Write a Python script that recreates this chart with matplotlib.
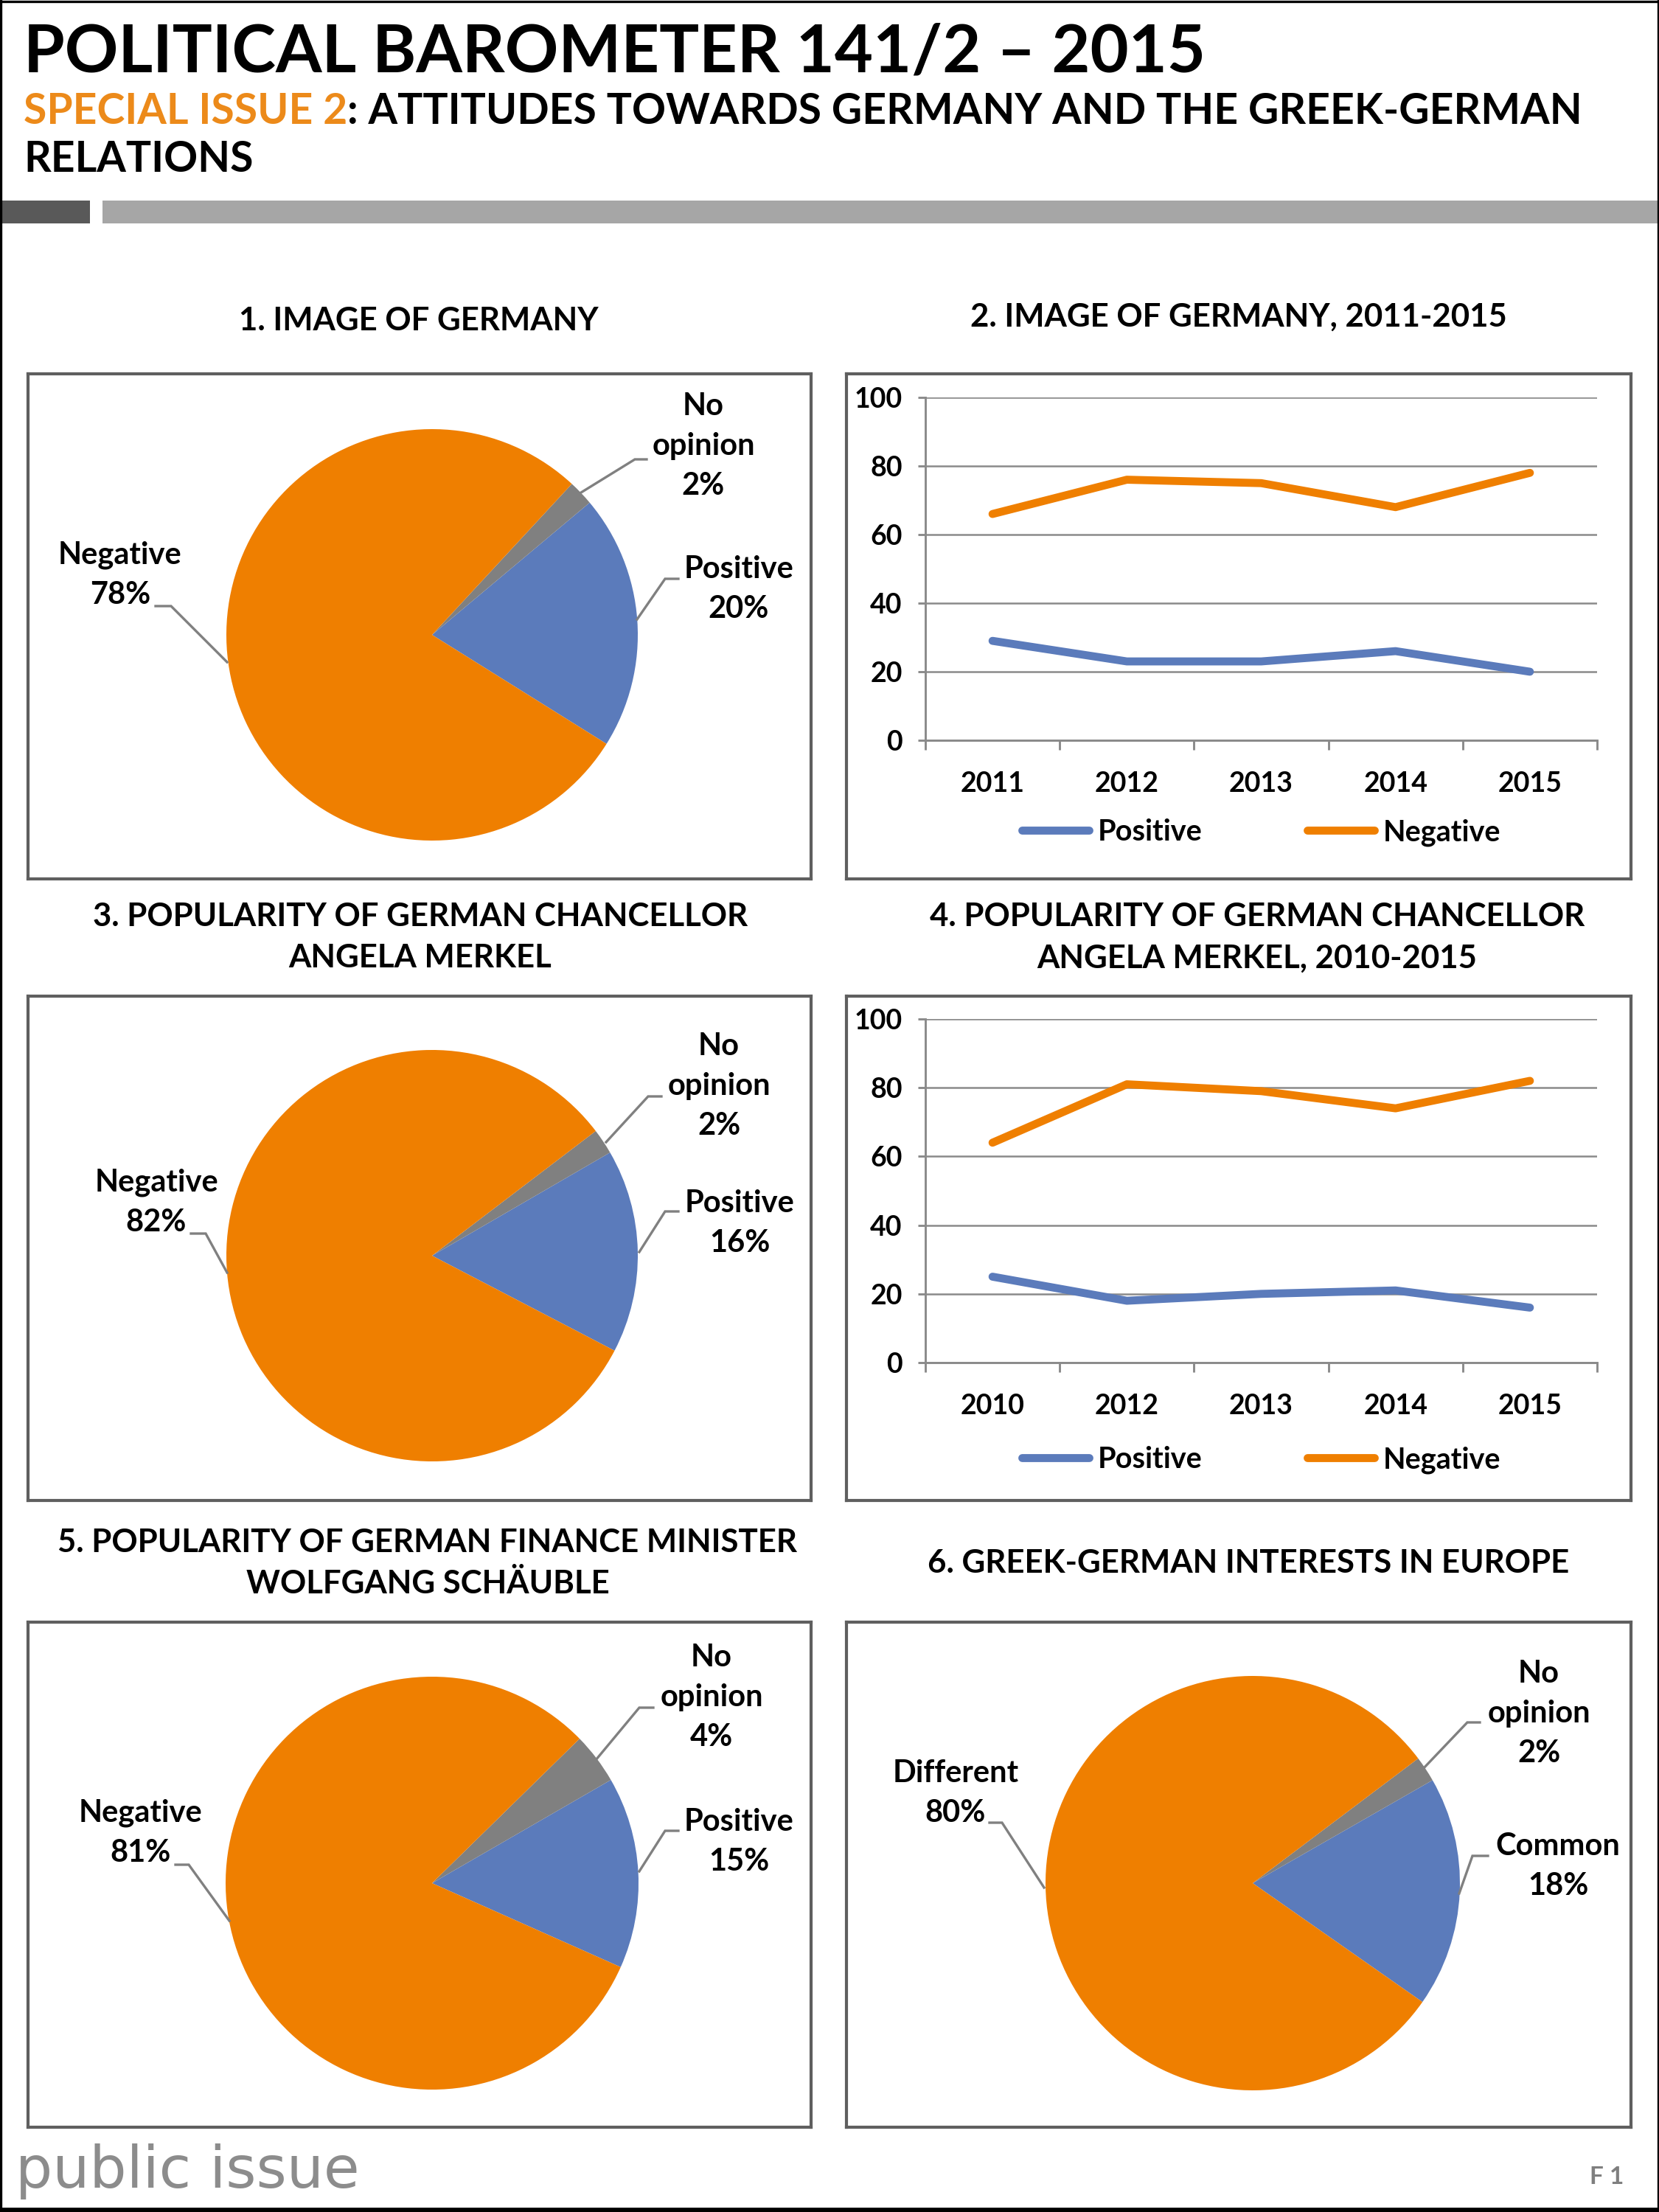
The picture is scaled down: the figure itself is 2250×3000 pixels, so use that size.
import matplotlib.pyplot as plt
from matplotlib.patches import Rectangle

plt.rcParams['font.family'] = ['Lato', 'DejaVu Sans']

# ---- data ----
pie1_labels = ['Positive', 'No opinion', 'Negative']
pie1_values = [20, 2, 78]

pie3_labels = ['Positive', 'No opinion', 'Negative']
pie3_values = [16, 2, 82]

pie5_labels = ['Positive', 'No opinion', 'Negative']
pie5_values = [15, 4, 81]

pie6_labels = ['Common', 'No opinion', 'Different']
pie6_values = [18, 2, 80]

years2 = ['2011', '2012', '2013', '2014', '2015']
pos2 = [29, 23, 23, 26, 20]
neg2 = [66, 76, 75, 68, 78]

years4 = ['2010', '2012', '2013', '2014', '2015']
pos4 = [25, 18, 20, 21, 16]
neg4 = [64, 81, 79, 74, 82]

BLUE = '#5b7bbb'
ORANGE = '#ef7f00'
GRAY = '#808080'
BOXC = '#5f5f5f'

W, H = 2250, 3000
fig = plt.figure(figsize=(7.5, 10), dpi=300)

# background axes in pixel coords (y downwards)
bg = fig.add_axes([0, 0, 1, 1])
bg.set_xlim(0, W)
bg.set_ylim(H, 0)
bg.axis('off')


def add_box(x0, y0, x1, y1):
    # axes whose data coords are pixels (y up = H - y)
    ax = fig.add_axes([x0 / W, 1 - y1 / H, (x1 - x0) / W, (y1 - y0) / H])
    ax.set_xlim(x0, x1)
    ax.set_ylim(H - y1, H - y0)
    ax.set_xticks([])
    ax.set_yticks([])
    for s in ax.spines.values():
        s.set_color(BOXC)
        s.set_linewidth(1.0)
    return ax


def panel_title(x, y, text):
    bg.text(x, y, text, ha='center', va='center', fontsize=10.5,
            fontweight='bold', linespacing=1.5)


def draw_pie(box, labels, values, center, r, start, label_pos, leaders):
    ax = add_box(*box)
    ax.pie(values, colors=[BLUE, GRAY, ORANGE], startangle=start,
           counterclock=True, center=(center[0], H - center[1]), radius=r,
           frame=True, wedgeprops=dict(linewidth=0))
    ax.set_xlim(box[0], box[2])
    ax.set_ylim(H - box[3], H - box[1])
    ax.set_aspect('auto')
    ax.set_xticks([])
    ax.set_yticks([])
    for lab, v, (tx, ty), pts in zip(labels, values, label_pos, leaders):
        txt = lab.replace(' ', '\n') + '\n' + f'{v}%'
        ax.text(tx, H - ty, txt, ha='center', va='center', fontsize=10,
                fontweight='bold', linespacing=1.52)
        ax.plot([p[0] for p in pts], [H - p[1] for p in pts], color=GRAY,
                lw=0.8, solid_joinstyle='miter')


def draw_lines(box, plot, years, pos, neg, leg_y):
    add_box(*box)
    x0, y0, x1, y1 = plot
    ax = fig.add_axes([x0 / W, 1 - y1 / H, (x1 - x0) / W, (y1 - y0) / H])
    ax.patch.set_alpha(0)
    ax.plot(years, pos, color=BLUE, lw=2.6, label='Positive',
            solid_capstyle='round')
    ax.plot(years, neg, color=ORANGE, lw=2.6, label='Negative',
            solid_capstyle='round')
    ax.set_ylim(0, 100)
    ax.set_xlim(-0.5, 4.5)
    ax.set_yticks(range(0, 101, 20))
    ax.grid(axis='y', color='#8a8a8a', lw=0.6)
    ax.set_axisbelow(True)
    for s in ['top', 'right']:
        ax.spines[s].set_visible(False)
    for s in ['left', 'bottom']:
        ax.spines[s].set_color('#8a8a8a')
        ax.spines[s].set_linewidth(0.7)
    ax.set_xticks([i - 0.5 for i in range(6)], minor=True)
    ax.tick_params(axis='x', which='major', length=0, pad=10)
    ax.tick_params(axis='x', which='minor', length=3.2, width=0.7,
                   color='#8a8a8a', direction='out')
    ax.tick_params(axis='y', length=2.5, width=0.7, color='#8a8a8a', pad=5)
    for t in ax.get_xticklabels() + ax.get_yticklabels():
        t.set_fontweight('bold')
        t.set_fontsize(9)
    ax.legend(loc='center', bbox_to_anchor=((x0 + x1) / 2 / W, 1 - leg_y / H),
              bbox_transform=fig.transFigure, ncol=2, frameon=False,
              handlelength=2.3, handletextpad=0.3, columnspacing=3.6,
              prop=dict(weight='bold', size=9.5))


# ---- header ----
bg.text(32, 97, 'POLITICAL BAROMETER 141/2 \u2013 2015', fontsize=21.6,
        fontweight='bold', va='baseline', ha='left')
t1 = bg.text(32, 168, 'SPECIAL ISSUE 2', fontsize=13.7, fontweight='bold',
             color='#ec8a1a', va='baseline', ha='left')
bg.annotate(': ATTITUDES TOWARDS GERMANY AND THE GREEK-GERMAN', xy=(1, 0),
            xycoords=t1, va='bottom', ha='left', fontsize=13.7,
            fontweight='bold')
bg.text(32, 233, 'RELATIONS', fontsize=13.7, fontweight='bold',
        va='baseline', ha='left')
bg.add_patch(Rectangle((0, 272), 122, 31, color='#595959', lw=0))
bg.add_patch(Rectangle((139, 272), W - 139, 31, color='#a6a6a6', lw=0))

# page border
bg.plot([1, W - 1], [1.5, 1.5], color='black', lw=0.8)
bg.plot([1, 1], [0, H], color='black', lw=0.8)
bg.plot([W - 1.5, W - 1.5], [0, H], color='black', lw=0.8)
bg.plot([0, W], [H - 3, H - 3], color='black', lw=1.6)

# ---- panel titles ----
panel_title(568, 435, '1. IMAGE OF GERMANY')
panel_title(1680, 430, '2. IMAGE OF GERMANY, 2011-2015')
panel_title(570, 1271, '3. POPULARITY OF GERMAN CHANCELLOR\nANGELA MERKEL')
panel_title(1705, 1271, '4. POPULARITY OF GERMAN CHANCELLOR\nANGELA MERKEL, 2010-2015')
panel_title(580, 2120, '5. POPULARITY OF GERMAN FINANCE MINISTER\nWOLFGANG SCH\u00c4UBLE')
panel_title(1693, 2120, '6. GREEK-GERMAN INTERESTS IN EUROPE')

# ---- pies ----
draw_pie((38, 507, 1100, 1192), pie1_labels, pie1_values, (586, 861), 279, -32,
         [(1002, 799), (954, 605), (163, 780)],
         [[(864, 840), (902, 785), (920, 785)],
          [(788, 668), (861, 623), (877, 623)],
          [(308, 898), (232, 822), (211, 822)]])

draw_pie((38, 1351, 1100, 2035), pie3_labels, pie3_values, (586, 1703), 279, -27.5,
         [(1003, 1659), (975, 1473), (212, 1631)],
         [[(867, 1698), (902, 1643), (920, 1643)],
          [(822, 1549), (879, 1487), (897, 1487)],
          [(308, 1726), (279, 1673), (259, 1673)]])

draw_pie((38, 2200, 1100, 2885), pie5_labels, pie5_values, (586, 2554), 280, -24,
         [(1002, 2498), (965, 2302), (191, 2486)],
         [[(867, 2538), (902, 2483), (920, 2483)],
          [(808, 2387), (867, 2316), (886, 2316)],
          [(311, 2605), (256, 2529), (238, 2529)]])

draw_pie((1148, 2200, 2212, 2885), pie6_labels, pie6_values, (1699, 2554), 281, -35,
         [(2113, 2531), (2087, 2324), (1296, 2432)],
         [[(1979, 2568), (1997, 2517), (2018, 2517)],
          [(1929, 2400), (1990, 2336), (2007, 2336)],
          [(1416, 2560), (1359, 2472), (1342, 2472)]])

# ---- line charts ----
draw_lines((1148, 507, 2212, 1192), (1255, 539, 2166, 1004), years2, pos2, neg2, 1129)
draw_lines((1148, 1351, 2212, 2035), (1255, 1382, 2166, 1848), years4, pos4, neg4, 1980)

# ---- footer ----
bg.text(21, 2967, 'public issue', fontsize=19, color='#8c8c8c',
        family='DejaVu Sans', va='baseline', ha='left')
bg.text(2202, 2962, 'F 1', fontsize=8, color='#7f7f7f', fontweight='bold',
        va='baseline', ha='right')

fig.savefig('out.png', dpi=300, facecolor='white')
